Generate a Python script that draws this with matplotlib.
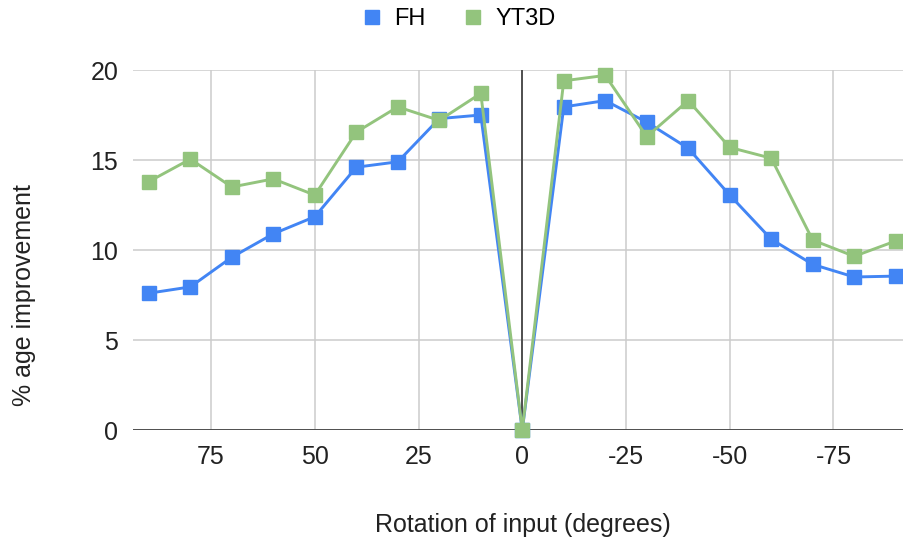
import matplotlib.pyplot as plt
from matplotlib.lines import Line2D

plt.rcParams["font.family"] = ["Liberation Sans", "DejaVu Sans"]
plt.rcParams["axes.unicode_minus"] = False

rotation = [90, 80, 70, 60, 50, 40, 30, 20, 10, 0,
            -10, -20, -30, -40, -50, -60, -70, -80, -90]
fh = [7.6, 7.95, 9.6, 10.9, 11.85, 14.6, 14.9, 17.3, 17.5, 0,
      17.95, 18.3, 17.1, 15.65, 13.05, 10.6, 9.2, 8.5, 8.55]
yt3d = [13.8, 15.05, 13.5, 13.95, 13.05, 16.55, 17.95, 17.2, 18.7, 0,
        19.4, 19.7, 16.3, 18.3, 15.7, 15.1, 10.55, 9.65, 10.5]

blue = "#4285F4"
green = "#93C47D"
txt = "#222222"

fig = plt.figure(figsize=(9.04, 5.45), dpi=100)
ax = fig.add_axes([133.5 / 904, 1 - 430 / 545, (904 - 133.5) / 904, 360 / 545])

ax.plot(rotation, fh, color=blue, lw=2.1, marker="s", ms=10, clip_on=False, zorder=3)
ax.plot(rotation, yt3d, color=green, lw=2.1, marker="s", ms=10, clip_on=False, zorder=4)

ax.set_xlim(93.7, -92)
ax.set_ylim(0, 20)
ax.set_xticks([75, 50, 25, 0, -25, -50, -75])
ax.set_yticks([0, 5, 10, 15, 20])
ax.grid(True, color="#cccccc", lw=1.1)
ax.axvline(0, color="#444444", lw=1.3, zorder=2)
ax.axhline(0, color="#444444", lw=1.3, zorder=2)
for s in ax.spines.values():
    s.set_visible(False)
ax.tick_params(length=0, labelsize=18, colors=txt)
ax.tick_params(axis="x", pad=11)
ax.tick_params(axis="y", pad=11)

fig.text(24 / 904, 1 - 295 / 545, "% age improvement", rotation=90,
         ha="center", va="center", fontsize=18, color=txt)
fig.text(523 / 904, 1 - 525 / 545, "Rotation of input (degrees)",
         ha="center", va="center", fontsize=18, color=txt)

handles = [Line2D([], [], color=blue, marker="s", ls="none", ms=10),
           Line2D([], [], color=green, marker="s", ls="none", ms=10)]
fig.legend(handles, ["FH", "YT3D"], loc="center", bbox_to_anchor=(458 / 904, 1 - 19 / 545),
           ncol=2, frameon=False, fontsize=17, handletextpad=0.45, columnspacing=1.5,
           handlelength=1.0, borderpad=0)

fig.savefig("out.png", dpi=100)
